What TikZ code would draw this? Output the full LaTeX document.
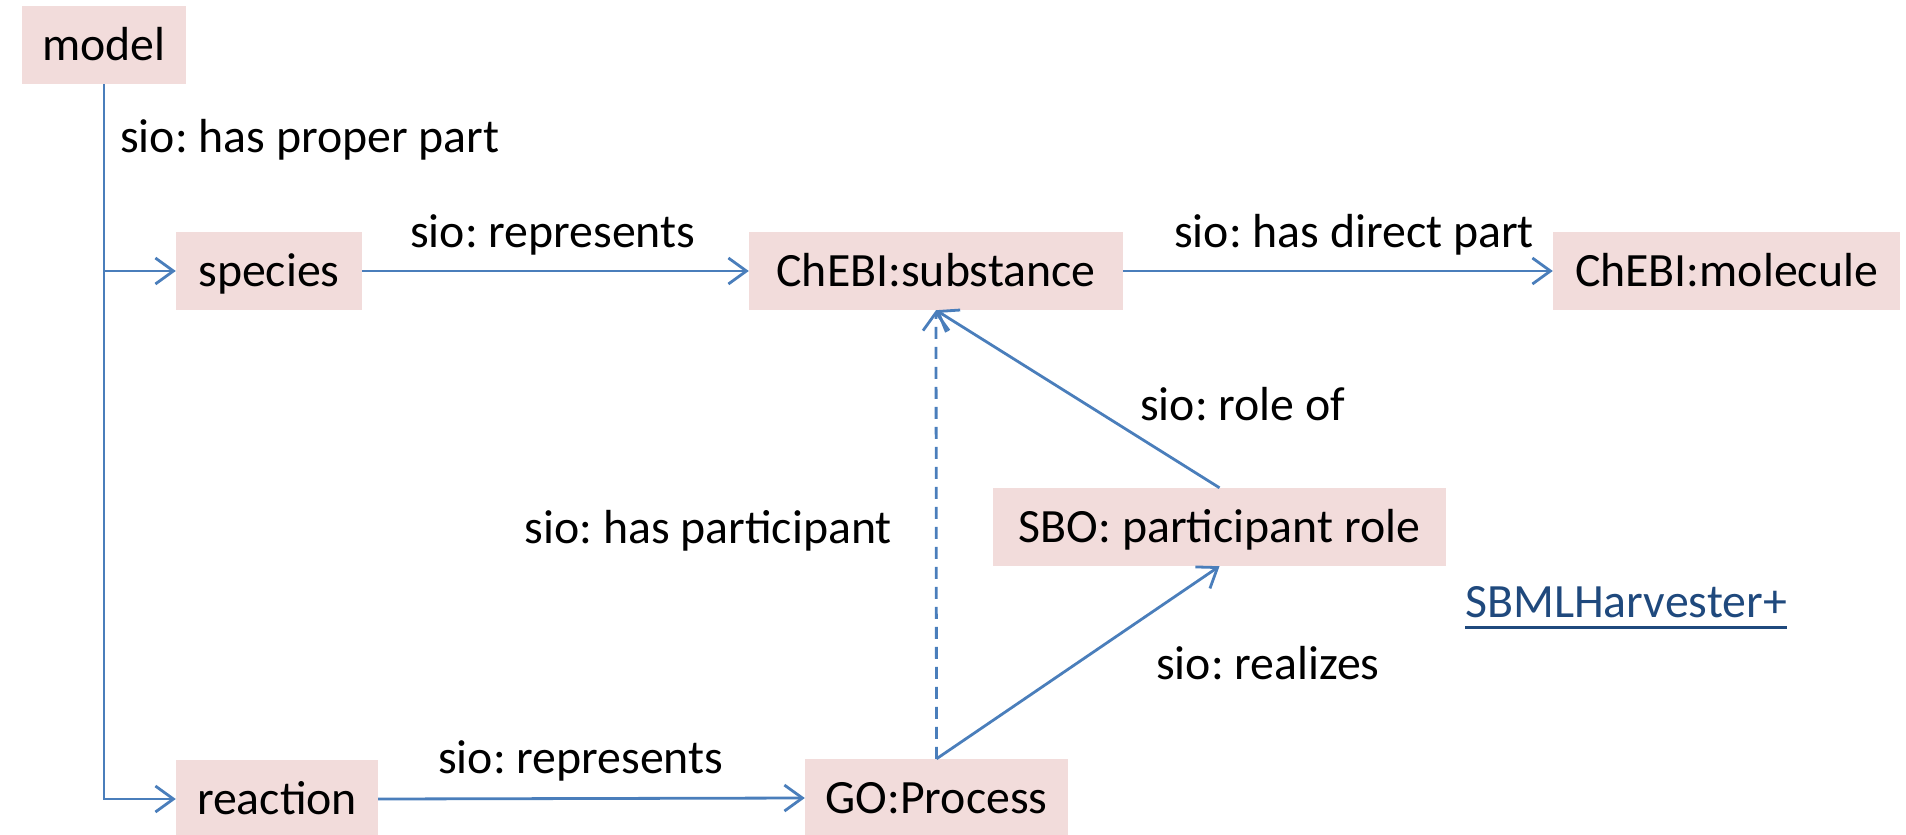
\documentclass[tikz,border=0pt]{standalone}
\usepackage{fontspec}
\setmainfont{Carlito}
\usetikzlibrary{arrows.meta}
\definecolor{linkblue}{HTML}{4A7EBB}
\definecolor{boxpink}{HTML}{F2DCDB}
\definecolor{hyper}{HTML}{1F497D}
\frenchspacing

\begin{document}
\begin{tikzpicture}[x=1pt,y=-1pt,
  font=\fontsize{47.8}{57}\selectfont,
  term/.style={fill=boxpink, inner sep=0pt, minimum height=78pt,
    text height=30.5pt, text depth=0pt, anchor=center},
  rel/.style={draw=linkblue, line width=2.8pt,
    -{Straight Barb[length=18pt,width=26pt]}},
  lbl/.style={anchor=base west, inner sep=0pt}]
\useasboundingbox (0,0) rectangle (1906,835);

% classes
\node[term, minimum width=164pt] (model)     at (104,45)    {model};
\node[term, minimum width=186pt] (species)   at (269,271)   {species};
\node[term, minimum width=374pt] (substance) at (936,271)   {ChEBI:substance};
\node[term, minimum width=347pt] (molecule)  at (1726.5,271) {ChEBI:molecule};
\node[term, minimum width=453pt] (sbo)       at (1219.5,527) {SBO: participant role};
\node[term, minimum width=202pt] (reaction)  at (277,799)   {reaction};
\node[term, minimum width=263pt] (process)   at (936.5,798) {GO:Process};

% relations
\draw[rel] (model.south) |- (species.west);
\draw[rel] (model.south) |- (reaction.west);
\draw[rel] (species.east) -- (substance.west);
\draw[rel] (substance.east) -- (molecule.west);
\draw[rel] (reaction.east) -- (process.west);
\draw[rel, dash pattern=on 12pt off 8pt] (process.north) -- (substance.south);
\draw[rel] (sbo.north) -- (substance.south);
\draw[rel] (process.north) -- (sbo.south);

% relation labels
\node[lbl] (lproper)   at (120,152)  {sio: has proper part};
\node[lbl] (lrep1)     at (410,247)  {sio: represents};
\node[lbl] (ldirect)   at (1174,247) {sio: has direct part};
\node[lbl] (lroleof)   at (1140,420) {sio: role of};
\node[lbl, anchor=base east] (lpart) at (892,543) {sio: has participant};
\node[lbl] (lrealizes) at (1156,679) {sio: realizes};
\node[lbl] (lrep2)     at (438,773)  {sio: represents};

% link
\node[lbl, text=hyper] (harv) at (1465,617) {SBMLHarvester+};
\draw[hyper, line width=3pt] ([yshift=-10pt]harv.base west) -- ([yshift=-10pt]harv.base east);
\end{tikzpicture}
\end{document}
